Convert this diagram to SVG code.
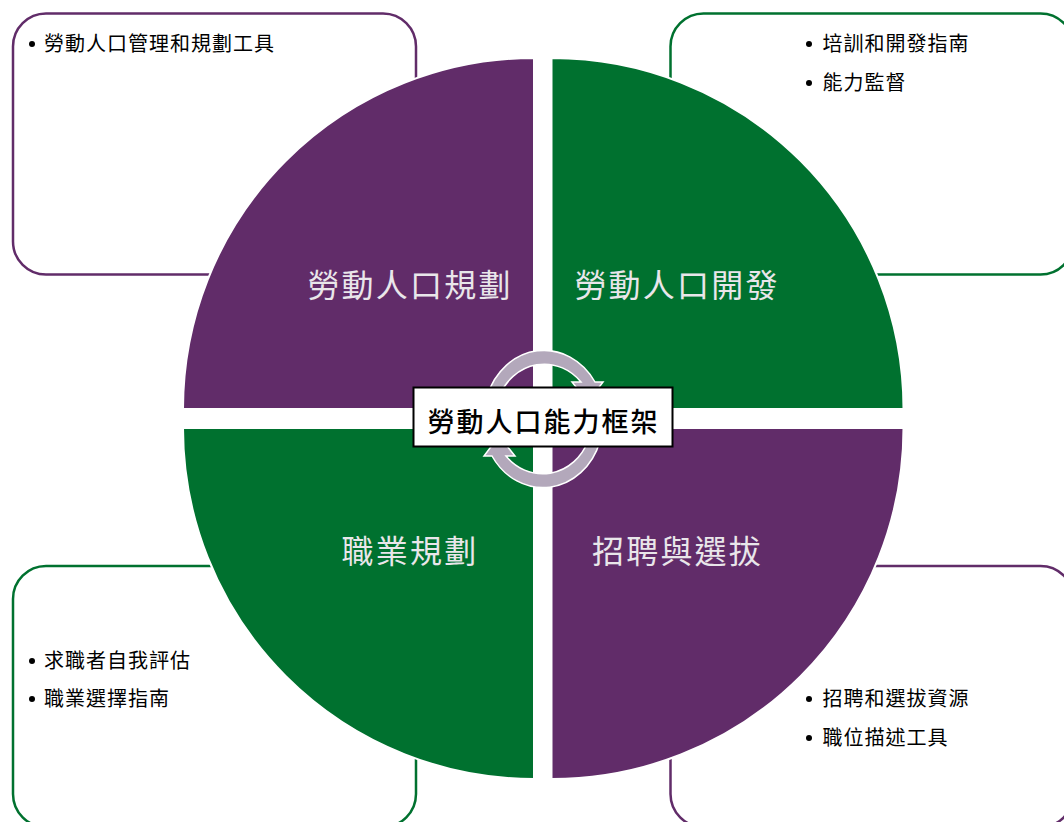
<svg xmlns="http://www.w3.org/2000/svg" width="1064" height="822" viewBox="0 0 1064 822">
<style>
text{font-family:"Noto Sans CJK TC","Noto Sans CJK SC",sans-serif}
.purple{fill:#612c69}
.green{fill:#00712f}
.wedge{stroke:#fff;stroke-width:2}
.box{fill:#fff;stroke-width:2.5}
.b-p{stroke:#612c69}
.b-g{stroke:#00712f}
.list{font-size:20px;letter-spacing:1px;fill:#000}
.bullet{fill:#000}
.head{font-size:32px;letter-spacing:2.2px;fill:#e9e6ea;text-anchor:middle}
.ring{fill:#b3a8bb;stroke:#fff;stroke-width:1.500}
</style>
<rect width="1064" height="822" fill="#fff"/>
<g id="panel-tl"><rect class="box b-p" x="13" y="13.500" width="403" height="261" rx="33"/></g>
<g id="panel-tr"><rect class="box b-g" x="670.500" y="13.500" width="403" height="261" rx="33"/></g>
<g id="panel-bl"><rect class="box b-g" x="13" y="566" width="403" height="261" rx="33"/></g>
<g id="panel-br"><rect class="box b-p" x="670.500" y="566" width="403" height="261" rx="33"/></g>
<g id="wedge-tl"><path class="wedge purple" d="M534 409V58A351 351 0 0 0 183 409Z"/><text class="head" x="410" y="297">勞動人口規劃</text></g>
<g id="wedge-tr"><path class="wedge green" d="M551.500 409V58A351.500 351 0 0 1 903.500 409Z"/><text class="head" x="677" y="297">勞動人口開發</text></g>
<g id="wedge-bl"><path class="wedge green" d="M534 428V779A351 351 0 0 1 183 428Z"/><text class="head" x="410" y="563">職業規劃</text></g>
<g id="wedge-br"><path class="wedge purple" d="M551.500 428V779A351.500 351 0 0 0 903.500 428Z"/><text class="head" x="677.500" y="563">招聘與選拔</text></g>
<g id="list-tl"><circle class="bullet" cx="32" cy="44" r="3"/><text class="list" x="44" y="51">勞動人口管理和規劃工具</text></g>
<g id="list-tr"><circle class="bullet" cx="809" cy="44" r="3"/><text class="list" x="822.500" y="51">培訓和開發指南</text><circle class="bullet" cx="809" cy="83" r="3"/><text class="list" x="822.500" y="90">能力監督</text></g>
<g id="list-bl"><circle class="bullet" cx="32" cy="661" r="3"/><text class="list" x="44" y="668">求職者自我評估</text><circle class="bullet" cx="32" cy="699" r="3"/><text class="list" x="44" y="706">職業選擇指南</text></g>
<g id="list-br"><circle class="bullet" cx="809" cy="699" r="3"/><text class="list" x="822.500" y="706">招聘和選拔資源</text><circle class="bullet" cx="809" cy="738" r="3"/><text class="list" x="822.500" y="745">職位描述工具</text></g>
<g id="connectors">
<path class="ring" d="M487.200 396A60 67 0 0 1 595 382L603 382L588 402L572 382L581 382A49 53 0 0 0 499.400 396Z"/>
<path class="ring" d="M599.800 442A60 67 0 0 1 492 456L484 456L499 436L515 456L506 456A49 53 0 0 0 587.600 442Z"/>
</g>
<g id="center"><rect x="413.500" y="387.500" width="259" height="59" fill="#fff" stroke="#000" stroke-width="2"/><text x="543.500" y="431.500" font-size="27" font-weight="500" letter-spacing="2" text-anchor="middle" fill="#000">勞動人口能力框架</text></g>
</svg>
